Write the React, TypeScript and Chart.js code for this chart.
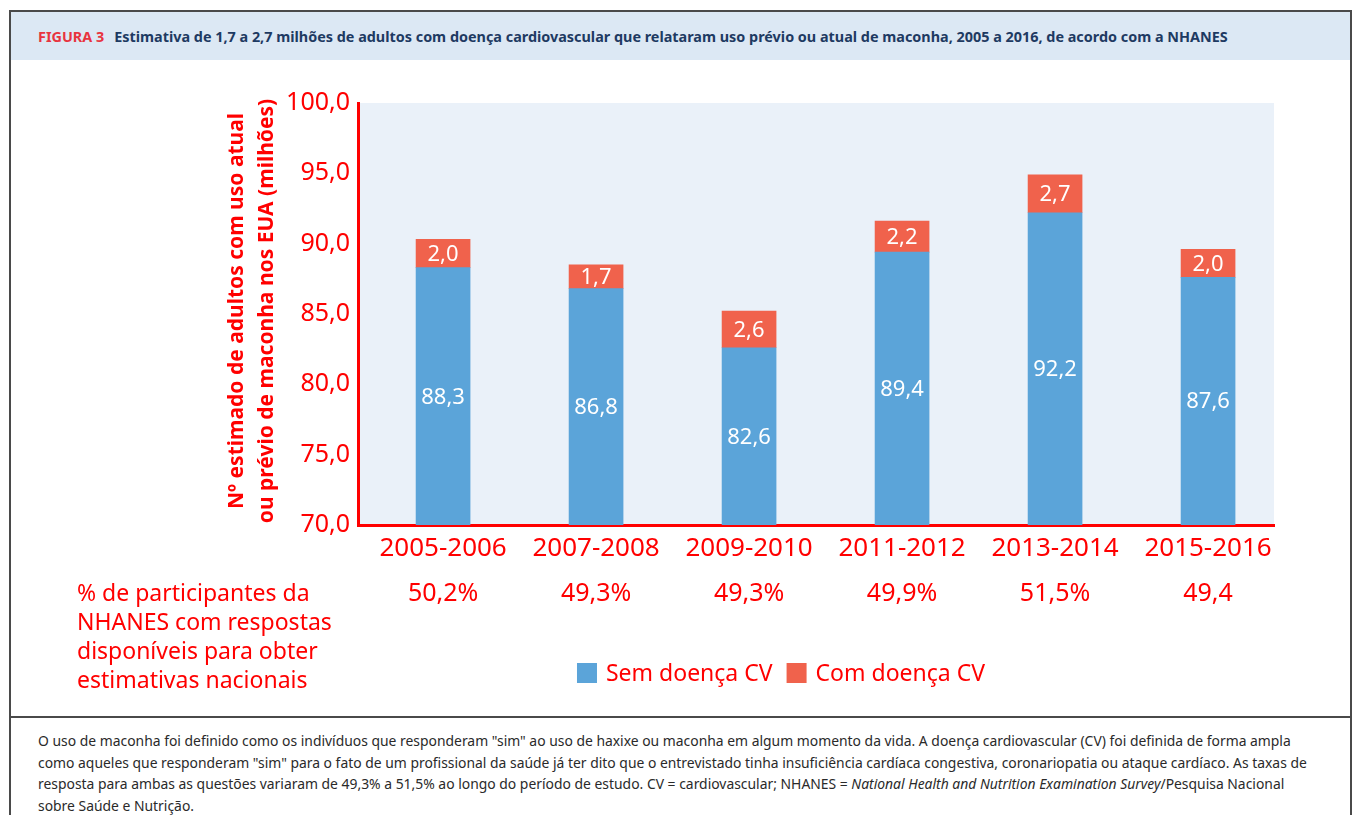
import React, { useEffect, useRef } from "react";
import { Chart, registerables } from "chart.js";

Chart.register(...registerables);

const periods = ["2005-2006", "2007-2008", "2009-2010", "2011-2012", "2013-2014", "2015-2016"];
const semDoenca = [88.3, 86.8, 82.6, 89.4, 92.2, 87.6];
const comDoenca = [2.0, 1.7, 2.6, 2.2, 2.7, 2.0];
const participantes = ["50,2%", "49,3%", "49,3%", "49,9%", "51,5%", "49,4"];
const yMin = 70;
const yMax = 100;
const yStep = 5;

const seriesNames = ["Sem doença CV", "Com doença CV"];
const yTitleLines = [
  "Nº estimado de adultos com uso atual",
  "ou prévio de maconha nos EUA (milhões)",
];
const leftNoteLines = [
  "% de participantes da",
  "NHANES com respostas",
  "disponíveis para obter",
  "estimativas nacionais",
];

const BLUE = "#5ba4d9";
const RED_BAR = "#f0624c";
const RED_TXT = "#ff0000";
const FONT = "'Noto Sans', sans-serif";

const fmt = (v: number) => v.toFixed(1).replace(".", ",");

const extrasPlugin = {
  id: "extras",
  beforeDraw(chart: any) {
    const { ctx, chartArea } = chart;
    ctx.save();
    ctx.fillStyle = "#eaf1f9";
    ctx.fillRect(chartArea.left, chartArea.top, chartArea.right - chartArea.left, chartArea.bottom - chartArea.top);
    ctx.restore();
  },
  afterDatasetsDraw(chart: any) {
    const { ctx, chartArea } = chart;
    ctx.save();
    ctx.fillStyle = "#ffffff";
    ctx.font = `22px ${FONT}`;
    ctx.textAlign = "center";
    ctx.textBaseline = "middle";
    chart.data.datasets.forEach((ds: any, di: number) => {
      const meta = chart.getDatasetMeta(di);
      meta.data.forEach((el: any, i: number) => {
        const base = Math.min(el.base, chartArea.bottom);
        const cy = (el.y + base) / 2;
        ctx.fillText(fmt(ds.data[i].y), el.x, cy + 1);
      });
    });
    ctx.restore();
  },
  afterDraw(chart: any) {
    const { ctx } = chart;
    const xs = chart.scales.x;
    ctx.save();
    ctx.fillStyle = RED_TXT;

    // Y axis title (rotated)
    ctx.save();
    ctx.translate(237, 311);
    ctx.rotate(-Math.PI / 2);
    ctx.font = `bold 21px ${FONT}`;
    ctx.textAlign = "center";
    ctx.textBaseline = "middle";
    ctx.fillText(yTitleLines[0], 0, 0);
    ctx.fillText(yTitleLines[1], 0, 30);
    ctx.restore();

    // Percentages row
    ctx.font = `25px ${FONT}`;
    ctx.textAlign = "center";
    ctx.textBaseline = "middle";
    participantes.forEach((p, i) => {
      ctx.fillText(p, xs.getPixelForValue(i), 594);
    });

    // Left note
    ctx.font = `23px ${FONT}`;
    ctx.textAlign = "left";
    leftNoteLines.forEach((l, i) => {
      ctx.fillText(l, 77, 594 + i * 29);
    });

    // Legend
    ctx.font = `23px ${FONT}`;
    const colors = [BLUE, RED_BAR];
    const box = 20;
    const gapBox = 9;
    const gapItem = 14;
    const widths = seriesNames.map((n) => box + gapBox + ctx.measureText(n).width);
    const total = widths.reduce((a, b) => a + b, 0) + gapItem;
    let x = 781 - total / 2;
    const ly = 673;
    seriesNames.forEach((n, i) => {
      ctx.fillStyle = colors[i];
      ctx.fillRect(x, ly - box / 2, box, box);
      ctx.fillStyle = RED_TXT;
      ctx.textAlign = "left";
      ctx.fillText(n, x + box + gapBox, ly + 1);
      x += widths[i] + gapItem;
    });
    ctx.restore();
  },
};

function App() {
  const canvasRef = useRef<HTMLCanvasElement | null>(null);

  useEffect(() => {
    if (!canvasRef.current) return;
    Chart.defaults.font.family = FONT;
    const chart = new Chart(canvasRef.current, {
      type: "bar",
      data: {
        datasets: [
          {
            label: seriesNames[0],
            data: semDoenca.map((v, i) => ({ x: i, y: v })),
            backgroundColor: BLUE,
            barThickness: 54,
            borderWidth: 0,
          },
          {
            label: seriesNames[1],
            data: comDoenca.map((v, i) => ({ x: i, y: v })),
            backgroundColor: RED_BAR,
            barThickness: 54,
            borderWidth: 0,
          },
        ],
      },
      options: {
        responsive: false,
        animation: false,
        layout: { padding: { left: 268, right: 79, top: 103, bottom: 240 } },
        plugins: {
          legend: { display: false },
          tooltip: { enabled: false },
          title: { display: false },
        },
        scales: {
          x: {
            type: "linear",
            stacked: true,
            offset: false,
            min: -0.556,
            max: 5.431,
            grid: { display: false, drawTicks: false, offset: false },
            border: { display: true, color: RED_TXT, width: 3 },
            afterBuildTicks: (scale: any) => {
              scale.ticks = periods.map((_, i) => ({ value: i }));
            },
            afterFit: (scale: any) => {
              scale.height = 50;
            },
            ticks: {
              color: RED_TXT,
              font: { size: 26, family: FONT },
              padding: 8,
              maxRotation: 0,
              autoSkip: false,
              callback: (v: any) => periods[v] ?? "",
            },
          },
          y: {
            stacked: true,
            min: yMin,
            max: yMax,
            grid: { display: false, drawTicks: false },
            border: { display: true, color: RED_TXT, width: 3 },
            afterFit: (scale: any) => {
              scale.width = 90;
            },
            ticks: {
              stepSize: yStep,
              color: RED_TXT,
              font: { size: 25, family: FONT },
              padding: 8,
              callback: (v: any) => fmt(Number(v)),
            },
          },
        },
      },
      plugins: [extrasPlugin],
    } as any);
    return () => chart.destroy();
  }, []);

  return (
    <div
      style={{
        position: "fixed",
        left: 0,
        top: 0,
        width: 1353,
        height: 815,
        overflow: "hidden",
        background: "#ffffff",
        fontFamily: FONT,
      }}
    >
      <div
        style={{
          position: "absolute",
          left: 9,
          top: 10,
          width: 1343,
          height: 830,
          border: "2px solid #4a4a4a",
          boxSizing: "border-box",
        }}
      />
      <div
        style={{
          position: "absolute",
          left: 11,
          top: 12,
          width: 1339,
          height: 48,
          background: "#dce8f4",
          display: "flex",
          alignItems: "center",
          whiteSpace: "nowrap",
        }}
      >
        <span style={{ marginLeft: 27, fontSize: 14.4, fontWeight: 700 }}>
          <span style={{ color: "#e8343f" }}>FIGURA 3</span>
          <span style={{ color: "#1e3a62", marginLeft: 10 }}>
            Estimativa de 1,7 a 2,7 milhões de adultos com doença cardiovascular que relataram uso prévio ou atual de maconha, 2005 a 2016, de acordo com a NHANES
          </span>
        </span>
      </div>
      <div
        style={{
          position: "absolute",
          left: 9,
          top: 716,
          width: 1343,
          height: 2,
          background: "#4a4a4a",
        }}
      />
      <div
        style={{
          position: "absolute",
          left: 38,
          top: 730,
          fontSize: 13.9,
          lineHeight: "21.7px",
          color: "#2a2a2a",
          whiteSpace: "nowrap",
        }}
      >
        O uso de maconha foi definido como os indivíduos que responderam "sim" ao uso de haxixe ou maconha em algum momento da vida. A doença cardiovascular (CV) foi definida de forma ampla
        <br />
        como aqueles que responderam "sim" para o fato de um profissional da saúde já ter dito que o entrevistado tinha insuficiência cardíaca congestiva, coronariopatia ou ataque cardíaco. As taxas de
        <br />
        resposta para ambas as questões variaram de 49,3% a 51,5% ao longo do período de estudo. CV = cardiovascular; NHANES = <i>National Health and Nutrition Examination Survey</i>/Pesquisa Nacional
        <br />
        sobre Saúde e Nutrição.
      </div>
      <canvas
        ref={canvasRef}
        width={1353}
        height={815}
        style={{ position: "absolute", left: 0, top: 0, width: 1353, height: 815 }}
      />
    </div>
  );
}

export default App;
